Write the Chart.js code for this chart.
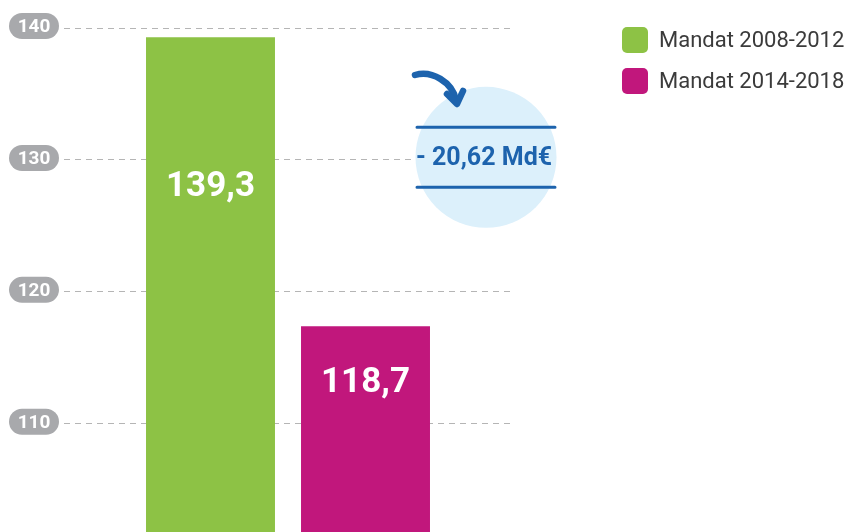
<!DOCTYPE html>
<html>
<head>
<meta charset="utf-8">
<script src="https://cdn.jsdelivr.net/npm/chart.js@4/dist/chart.umd.min.js"></script>
<style>
  html, body { margin: 0; padding: 0; background: #ffffff; }
  #wrap { width: 851px; height: 532px; position: relative; }
</style>
</head>
<body>
<div id="wrap"><canvas id="c" width="851" height="532"></canvas></div>
<script>
// ---- data ----
const categories = [''];
const seriesNames = ['Mandat 2008-2012', 'Mandat 2014-2018'];
const seriesValues = [139.3, 117.4];
const valueLabels = ['139,3', '118,7'];
const yTicks = [110, 120, 130, 140];
const calloutText = '- 20,62 Md€';

const colors = ['#8dc245', '#c1177c'];
const FONT = 'Roboto, "Liberation Sans", sans-serif';

const decorPlugin = {
  id: 'decor',
  afterDraw(chart) {
    const ctx = chart.ctx;
    const y = chart.scales.y;

    // tick pills
    yTicks.forEach(v => {
      const py = y.getPixelForValue(v) - 2;
      const w = 50, h = 26, x0 = 9;
      ctx.save();
      ctx.fillStyle = '#a8a9ac';
      ctx.beginPath();
      ctx.roundRect(x0, py - h / 2, w, h, h / 2);
      ctx.fill();
      ctx.fillStyle = '#ffffff';
      ctx.font = 'bold 19px ' + FONT;
      ctx.textAlign = 'center';
      ctx.textBaseline = 'middle';
      ctx.fillText(String(v), x0 + w / 2, py + 1);
      ctx.restore();
    });

    // value labels inside bars
    const labelAt = [127.95, 113.1];
    chart.data.datasets.forEach((ds, i) => {
      const bar = chart.getDatasetMeta(i).data[0];
      ctx.save();
      ctx.fillStyle = '#ffffff';
      ctx.font = 'bold 35px ' + FONT;
      ctx.textAlign = 'center';
      ctx.textBaseline = 'middle';
      ctx.fillText(valueLabels[i], bar.x, y.getPixelForValue(labelAt[i]));
      ctx.restore();
    });

    // callout circle
    const cx = 486, cy = y.getPixelForValue(130.2), r = 70.5;
    ctx.save();
    ctx.fillStyle = '#dcf0fb';
    ctx.beginPath();
    ctx.arc(cx, cy, r, 0, Math.PI * 2);
    ctx.fill();
    ctx.strokeStyle = '#1d63ad';
    ctx.lineWidth = 3;
    ctx.lineCap = 'round';
    ctx.beginPath();
    ctx.moveTo(417, cy - 30); ctx.lineTo(555, cy - 30);
    ctx.moveTo(417, cy + 30); ctx.lineTo(555, cy + 30);
    ctx.stroke();
    ctx.fillStyle = '#1d63ad';
    ctx.font = 'bold 25px ' + FONT;
    ctx.textAlign = 'center';
    ctx.textBaseline = 'middle';
    ctx.fillText(calloutText, 484, cy + 1);

    // curved arrow
    ctx.lineWidth = 6.5;
    ctx.lineCap = 'round';
    ctx.lineJoin = 'round';
    ctx.beginPath();
    ctx.moveTo(415, 75);
    ctx.bezierCurveTo(432, 70, 452, 82, 456, 100);
    ctx.stroke();
    ctx.beginPath();
    ctx.moveTo(447, 94);
    ctx.lineTo(457, 104);
    ctx.lineTo(463, 91);
    ctx.stroke();
    ctx.restore();

    // legend
    chart.data.datasets.forEach((ds, i) => {
      const ly = 27 + i * 41;
      ctx.save();
      ctx.fillStyle = ds.backgroundColor;
      ctx.beginPath();
      ctx.roundRect(622, ly, 26, 26, 5);
      ctx.fill();
      ctx.fillStyle = '#3b3b3b';
      ctx.font = '22px ' + FONT;
      ctx.textAlign = 'left';
      ctx.textBaseline = 'middle';
      ctx.fillText(ds.label, 659, ly + 14);
      ctx.restore();
    });
  }
};

new Chart(document.getElementById('c'), {
  type: 'bar',
  data: {
    labels: categories,
    datasets: seriesNames.map((name, i) => ({
      label: name,
      data: [seriesValues[i]],
      backgroundColor: colors[i],
      borderWidth: 0,
      categoryPercentage: 0.692,
      barPercentage: 0.832
    }))
  },
  options: {
    responsive: false,
    animation: false,
    devicePixelRatio: 1,
    layout: { padding: { left: 64, right: 339, top: 28, bottom: 0 } },
    plugins: { legend: { display: false }, tooltip: { enabled: false } },
    scales: {
      x: { display: false },
      y: {
        min: 101.8,
        max: 140,
        afterBuildTicks(scale) { scale.ticks = yTicks.map(v => ({ value: v })); },
        ticks: { display: false },
        grid: { color: '#b5b5b5', lineWidth: 1, drawTicks: false },
        border: { display: false, dash: [6, 5] }
      }
    }
  },
  plugins: [decorPlugin]
});
</script>
</body>
</html>
